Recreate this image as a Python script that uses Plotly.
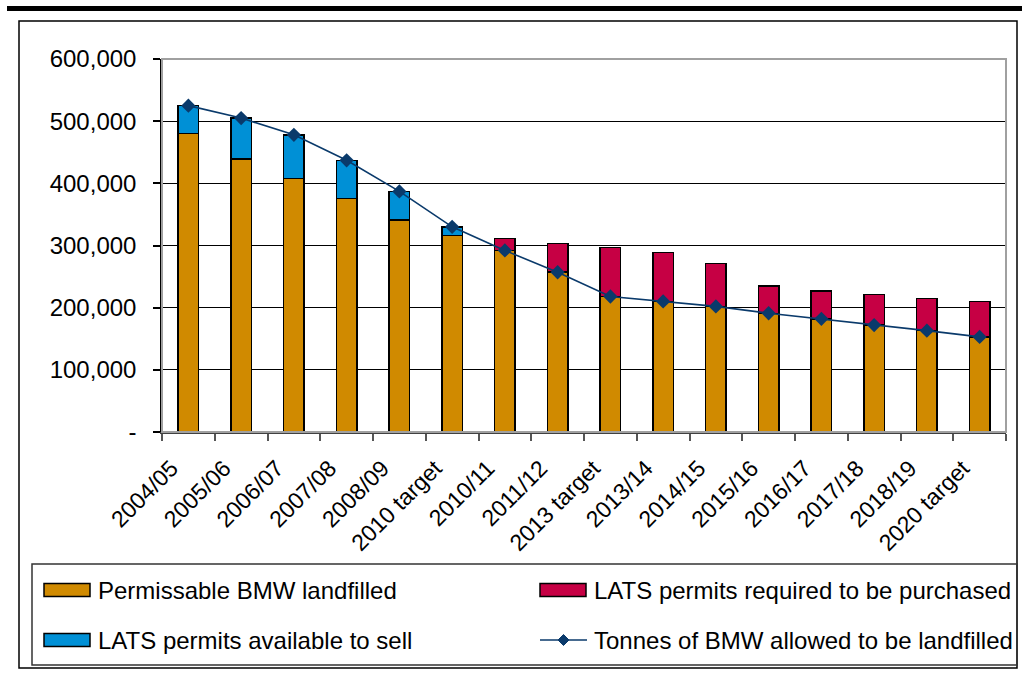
import plotly.graph_objects as go

# ---- data -------------------------------------------------------------
years = ["2004/05", "2005/06", "2006/07", "2007/08", "2008/09", "2010 target",
         "2010/11", "2011/12", "2013 target", "2013/14", "2014/15", "2015/16",
         "2016/17", "2017/18", "2018/19", "2020 target"]

permissable_landfilled = [480000, 439000, 408000, 376000, 341000, 316000,
                          292000, 257000, 218000, 210000, 202000, 191000,
                          182000, 172000, 163000, 153000]
permits_to_sell = [45000, 66000, 70000, 61000, 46000, 14000,
                   0, 0, 0, 0, 0, 0, 0, 0, 0, 0]
permits_to_purchase = [0, 0, 0, 0, 0, 0,
                       19000, 46000, 79000, 79000, 69000, 44000,
                       45000, 49000, 52000, 57000]
allowed_landfilled = [525000, 505000, 478000, 437000, 387000, 330000,
                      292000, 257000, 218000, 210000, 202000, 191000,
                      182000, 172000, 163000, 153000]

y_tickvals = [0, 100000, 200000, 300000, 400000, 500000, 600000]
y_ticktext = ["-", "100,000", "200,000", "300,000", "400,000", "500,000", "600,000"]

# ---- styling ----------------------------------------------------------
ORANGE = "#D08A00"
BLUE = "#0090D6"
RED = "#C60044"
NAVY = "#0A3A6B"
FONT = "Liberation Sans, Arial, sans-serif"

W, H = 1022, 681
PL, PR, PT, PB = 162, 1006, 59, 432   # plot area in pixels


def px_x(p):
    return (p - PL) / (PR - PL)


def px_y(p):
    return (PB - p) / (PB - PT)


bar_line = dict(color="black", width=1.5)

fig = go.Figure()
fig.add_trace(go.Bar(x=years, y=permissable_landfilled, name="Permissable BMW landfilled",
                     marker=dict(color=ORANGE, line=bar_line)))
fig.add_trace(go.Bar(x=years, y=permits_to_sell, name="LATS permits available to sell",
                     marker=dict(color=BLUE, line=bar_line)))
fig.add_trace(go.Bar(x=years, y=permits_to_purchase, name="LATS permits required to be purchased",
                     marker=dict(color=RED, line=bar_line)))
fig.add_trace(go.Scatter(x=years, y=allowed_landfilled, name="Tonnes of BMW allowed to be landfilled",
                         mode="lines+markers",
                         line=dict(color=NAVY, width=1.6),
                         marker=dict(symbol="diamond", size=11, color=NAVY)))

shapes = []
annotations = []

# thick rule across the top and the outer frame
shapes.append(dict(type="rect", xref="paper", yref="paper",
                   x0=px_x(7), x1=px_x(1024), y0=px_y(11), y1=px_y(6),
                   fillcolor="black", line=dict(width=0)))
shapes.append(dict(type="rect", xref="paper", yref="paper",
                   x0=px_x(19), x1=px_x(1017), y0=px_y(668), y1=px_y(21),
                   line=dict(color="black", width=1.5)))
# plot area border
shapes.append(dict(type="rect", xref="paper", yref="paper",
                   x0=0, x1=1, y0=0, y1=1,
                   line=dict(color="#A0A0A0", width=2)))
# legend box
shapes.append(dict(type="rect", xref="paper", yref="paper",
                   x0=px_x(32), x1=px_x(1017), y0=px_y(665), y1=px_y(564),
                   line=dict(color="#333333", width=1.5)))

legend_items = [
    ("Permissable BMW landfilled", ORANGE, 44, 590, "box"),
    ("LATS permits required to be purchased", RED, 540, 590, "box"),
    ("LATS permits available to sell", BLUE, 44, 640, "box"),
    ("Tonnes of BMW allowed to be landfilled", NAVY, 540, 640, "line"),
]
for label, color, sx, sy, kind in legend_items:
    if kind == "box":
        shapes.append(dict(type="rect", xref="paper", yref="paper",
                           x0=px_x(sx), x1=px_x(sx + 46), y0=px_y(sy + 6.5), y1=px_y(sy - 6.5),
                           fillcolor=color, line=dict(color="black", width=1.5)))
    else:
        shapes.append(dict(type="line", xref="paper", yref="paper",
                           x0=px_x(sx), x1=px_x(sx + 47), y0=px_y(sy), y1=px_y(sy),
                           line=dict(color=color, width=1.6)))
        cx = sx + 23.5
        d = 5.5
        path = "M {} {} L {} {} L {} {} L {} {} Z".format(
            px_x(cx), px_y(sy - d), px_x(cx + d), px_y(sy),
            px_x(cx), px_y(sy + d), px_x(cx - d), px_y(sy))
        shapes.append(dict(type="path", xref="paper", yref="paper", path=path,
                           fillcolor=color, line=dict(color=color, width=1)))
    annotations.append(dict(text=label, xref="paper", yref="paper",
                            x=px_x(sx + 52), y=px_y(sy), xanchor="left", yanchor="middle",
                            showarrow=False, font=dict(family=FONT, size=24, color="black")))

fig.update_layout(
    width=W, height=H,
    margin=dict(l=PL, r=W - PR, t=PT, b=H - PB, pad=0),
    paper_bgcolor="white", plot_bgcolor="white",
    barmode="stack", bargap=0.61,
    showlegend=False,
    font=dict(family=FONT, color="black"),
    shapes=shapes, annotations=annotations,
    xaxis=dict(type="category", range=[-0.5, len(years) - 0.5],
               tickangle=-45, tickson="boundaries",
               ticks="outside", ticklen=7, tickcolor="#555555", tickwidth=1.5,
               ticklabelshift=-17, ticklabelstandoff=12,
               showline=True, linecolor="#404040", linewidth=1.5,
               showgrid=False, tickfont=dict(family=FONT, size=23, color="black")),
    yaxis=dict(range=[0, 600000], tickvals=y_tickvals, ticktext=y_ticktext,
               ticks="outside", ticklen=7, tickcolor="black", tickwidth=1.5,
               ticklabelstandoff=12,
               showline=True, linecolor="black", linewidth=1.5,
               showgrid=True, gridcolor="black", gridwidth=1, zeroline=False,
               tickfont=dict(family=FONT, size=24, color="black")),
)

fig.write_html("out.html")
